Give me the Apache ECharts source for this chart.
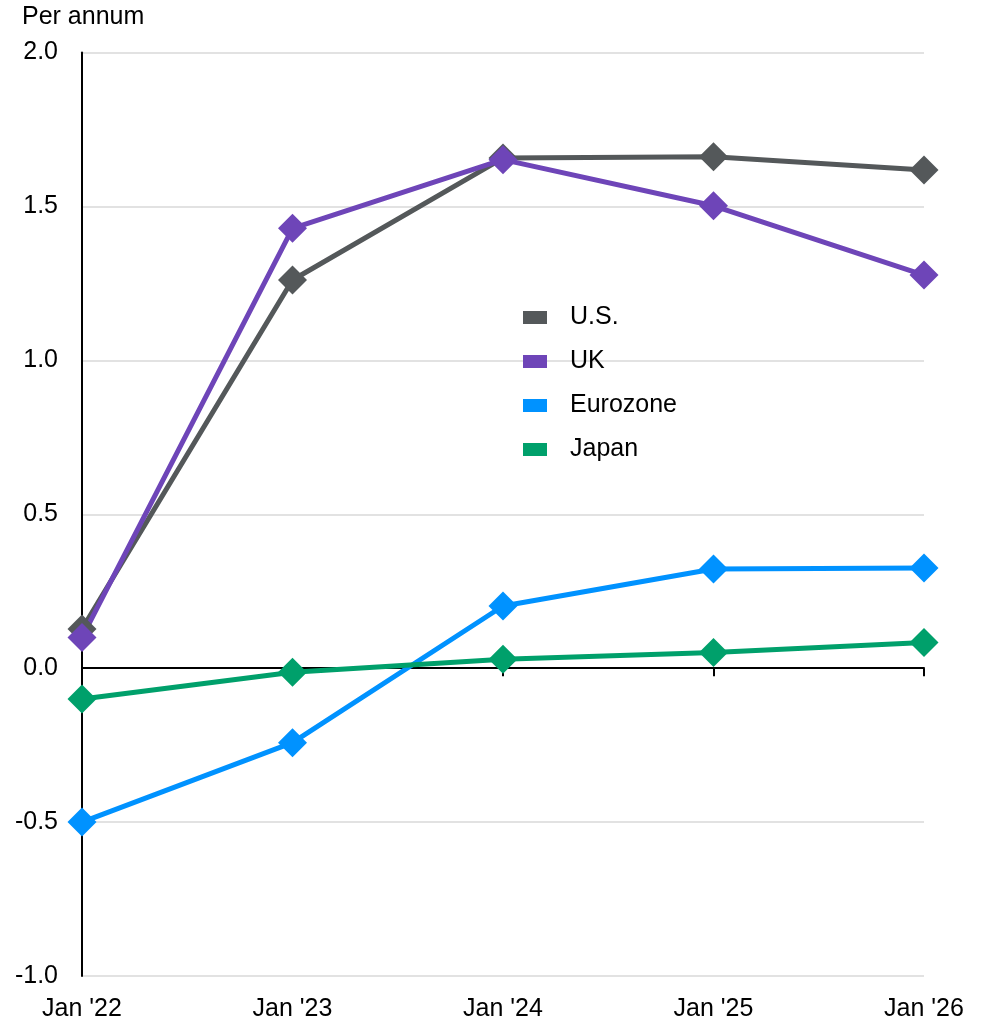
<!DOCTYPE html>
<html>
<head>
<meta charset="utf-8">
<style>
  html, body { margin: 0; padding: 0; background: #ffffff; }
  #chart { width: 986px; height: 1023px; }
</style>
<script src="https://cdn.jsdelivr.net/npm/echarts@6/dist/echarts.min.js"></script>
</head>
<body>
<div id="chart"></div>
<script>
// Annual rates, per annum
const categories = ["Jan '22", "Jan '23", "Jan '24", "Jan '25", "Jan '26"];
const usValues = [0.127, 1.261, 1.657, 1.661, 1.618];
const ukValues = [0.100, 1.429, 1.652, 1.502, 1.277];
const eurozoneValues = [-0.500, -0.242, 0.202, 0.322, 0.325];
const japanValues = [-0.100, -0.013, 0.029, 0.051, 0.083];
const seriesNames = ['U.S.', 'UK', 'Eurozone', 'Japan'];
const seriesColors = ['#54585a', '#6e45b8', '#0092ff', '#00a06b'];
const yTicks = { min: -1.0, max: 2.0, interval: 0.5 };

const FONT = 'Liberation Sans, Arial, sans-serif';
const FS = 25;
const chart = echarts.init(document.getElementById('chart'), null, { renderer: 'canvas' });

function lineSeries(name, values, color) {
  return {
    name: name,
    type: 'line',
    xAxisIndex: 0,
    data: values,
    symbol: 'diamond',
    symbolSize: 29,
    showAllSymbol: true,
    lineStyle: { color: color, width: 5 },
    itemStyle: { color: color },
    emphasis: { disabled: true },
    animation: false
  };
}

const allValues = [usValues, ukValues, eurozoneValues, japanValues];

chart.setOption({
  backgroundColor: '#ffffff',
  animation: false,
  title: {
    text: 'Per annum',
    left: 17,
    top: 0,
    textStyle: { fontFamily: FONT, fontSize: FS, fontWeight: 'normal', color: '#000000' }
  },
  legend: {
    orient: 'vertical',
    left: 518,
    top: 300,
    itemWidth: 24,
    itemHeight: 13,
    itemGap: 19,
    icon: 'rect',
    data: seriesNames,
    textStyle: { fontFamily: FONT, fontSize: FS, color: '#000000', padding: [0, 0, 0, 18] }
  },
  grid: { left: 82, right: 62, top: 52.5, bottom: 47, containLabel: false },
  xAxis: [
    {
      type: 'category',
      data: categories,
      boundaryGap: false,
      axisLine: { show: true, onZero: true, lineStyle: { color: '#000000', width: 2 } },
      axisTick: { show: true, length: 8, lineStyle: { color: '#000000', width: 2 } },
      axisLabel: { show: false },
      splitLine: { show: false }
    },
    {
      type: 'category',
      data: categories,
      boundaryGap: false,
      position: 'bottom',
      axisLine: { show: false, onZero: false },
      axisTick: { show: false },
      axisLabel: { show: true, margin: 21, fontFamily: FONT, fontSize: FS, color: '#000000' },
      splitLine: { show: false }
    }
  ],
  yAxis: {
    type: 'value',
    min: yTicks.min,
    max: yTicks.max,
    interval: yTicks.interval,
    axisLine: { show: true, onZero: false, lineStyle: { color: '#000000', width: 2 } },
    axisTick: { show: false },
    axisLabel: {
      margin: 24,
      fontFamily: FONT,
      fontSize: FS,
      color: '#000000',
      formatter: function (v) { return v.toFixed(1); }
    },
    splitLine: { show: true, lineStyle: { color: '#d9d9d9', width: 1.5 } }
  },
  series: seriesNames.map(function (n, i) { return lineSeries(n, allValues[i], seriesColors[i]); })
});
</script>
</body>
</html>
